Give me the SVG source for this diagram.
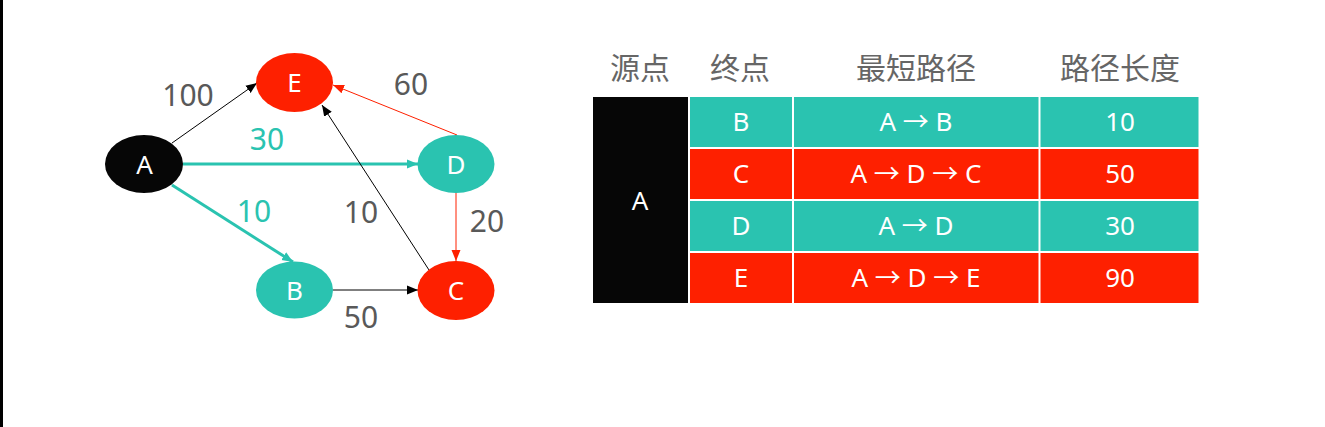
<svg xmlns="http://www.w3.org/2000/svg" width="1325" height="427" viewBox="0 0 1325 427">
<style>
.lbl{font-family:"Noto Sans","Open Sans","Liberation Sans",sans-serif;font-size:30px;fill:#595959;text-anchor:middle}
.tl{fill:#2AC3B0}
.nt{font-family:"Noto Sans","Open Sans","Liberation Sans",sans-serif;font-size:26px;fill:#ffffff;text-anchor:middle}
.ct{font-family:"Noto Sans","Open Sans","Liberation Sans",sans-serif;font-size:26px;fill:#ffffff;text-anchor:middle}
.ar{font-family:"Noto Sans CJK SC","DejaVu Sans",sans-serif}
.hd{font-family:"Noto Sans CJK SC","Noto Sans",sans-serif;font-size:30px;fill:#666666;text-anchor:middle}
.teal{fill:#2AC3B0}
.red{fill:#FE2000}
.blk{fill:#060606}
</style>
<defs>
<marker id="ab" markerUnits="userSpaceOnUse" markerWidth="12" markerHeight="10" refX="11" refY="5" orient="auto"><path d="M0,0.5 L11,5 L0,9.5 Z" fill="#000"/></marker>
<marker id="ar" markerUnits="userSpaceOnUse" markerWidth="12" markerHeight="10" refX="11" refY="5" orient="auto"><path d="M0,0.5 L11,5 L0,9.5 Z" fill="#FE2000"/></marker>
<marker id="at" markerUnits="userSpaceOnUse" markerWidth="12" markerHeight="10" refX="11" refY="5" orient="auto"><path d="M0,0.5 L11,5 L0,9.5 Z" fill="#2AC3B0"/></marker>
</defs>
<rect x="0" y="0" width="1325" height="427" fill="#ffffff"/>
<rect x="0" y="0" width="3" height="427" fill="#000000"/>

<g id="connectors">
<line x1="172" y1="143" x2="257" y2="83" stroke="#000" stroke-width="1" marker-end="url(#ab)"/>
<line x1="183" y1="164" x2="418" y2="164" stroke="#2AC3B0" stroke-width="3" marker-end="url(#at)"/>
<line x1="172" y1="185" x2="293" y2="262" stroke="#2AC3B0" stroke-width="3" marker-end="url(#at)"/>
<line x1="457" y1="135" x2="333" y2="85" stroke="#FE2000" stroke-width="1" marker-end="url(#ar)"/>
<line x1="456" y1="193" x2="456" y2="261" stroke="#FE2000" stroke-width="1" marker-end="url(#ar)"/>
<line x1="333" y1="290" x2="418" y2="290" stroke="#000" stroke-width="1" marker-end="url(#ab)"/>
<line x1="429" y1="270" x2="322" y2="105" stroke="#000" stroke-width="1" marker-end="url(#ab)"/>
<text class="lbl" x="188" y="106">100</text>
<text class="lbl tl" x="267" y="150">30</text>
<text class="lbl tl" x="254" y="222">10</text>
<text class="lbl" x="411" y="95">60</text>
<text class="lbl" x="361" y="223">10</text>
<text class="lbl" x="487" y="232">20</text>
<text class="lbl" x="361" y="328">50</text>
</g>

<g id="node-A"><ellipse cx="144" cy="164" rx="39" ry="29" class="blk"/><text class="nt" x="144.5" y="173.5">A</text></g>
<g id="node-E"><ellipse cx="294.5" cy="82.5" rx="38.5" ry="29.5" class="red"/><text class="nt" x="294.5" y="92">E</text></g>
<g id="node-D"><ellipse cx="456" cy="164" rx="38.5" ry="29" class="teal"/><text class="nt" x="456" y="173.5">D</text></g>
<g id="node-B"><ellipse cx="294.5" cy="290" rx="38.5" ry="28.5" class="teal"/><text class="nt" x="294.5" y="299.5">B</text></g>
<g id="node-C"><ellipse cx="456" cy="290.5" rx="38.5" ry="29.5" class="red"/><text class="nt" x="456" y="300">C</text></g>

<g id="table">
<text class="hd" x="640" y="79">源点</text>
<text class="hd" x="740" y="79">终点</text>
<text class="hd" x="916" y="79">最短路径</text>
<text class="hd" x="1120" y="79">路径长度</text>

<rect x="593" y="97" width="95" height="206" class="blk"/>
<text class="ct" x="640" y="210">A</text>

<rect x="690" y="97" width="102" height="50" class="teal"/>
<rect x="794" y="97" width="244.5" height="50" class="teal"/>
<rect x="1040.5" y="97" width="158" height="50" class="teal"/>
<text class="ct" x="741" y="131">B</text>
<text class="ct" x="916" y="131">A <tspan class="ar">→</tspan> B</text>
<text class="ct" x="1120" y="131">10</text>

<rect x="690" y="149" width="102" height="50" class="red"/>
<rect x="794" y="149" width="244.5" height="50" class="red"/>
<rect x="1040.5" y="149" width="158" height="50" class="red"/>
<text class="ct" x="741" y="183">C</text>
<text class="ct" x="916" y="183">A <tspan class="ar">→</tspan> D <tspan class="ar">→</tspan> C</text>
<text class="ct" x="1120" y="183">50</text>

<rect x="690" y="201" width="102" height="50" class="teal"/>
<rect x="794" y="201" width="244.5" height="50" class="teal"/>
<rect x="1040.5" y="201" width="158" height="50" class="teal"/>
<text class="ct" x="741" y="235">D</text>
<text class="ct" x="916" y="235">A <tspan class="ar">→</tspan> D</text>
<text class="ct" x="1120" y="235">30</text>

<rect x="690" y="253" width="102" height="50" class="red"/>
<rect x="794" y="253" width="244.5" height="50" class="red"/>
<rect x="1040.5" y="253" width="158" height="50" class="red"/>
<text class="ct" x="741" y="287">E</text>
<text class="ct" x="916" y="287">A <tspan class="ar">→</tspan> D <tspan class="ar">→</tspan> E</text>
<text class="ct" x="1120" y="287">90</text>
</g>
</svg>
